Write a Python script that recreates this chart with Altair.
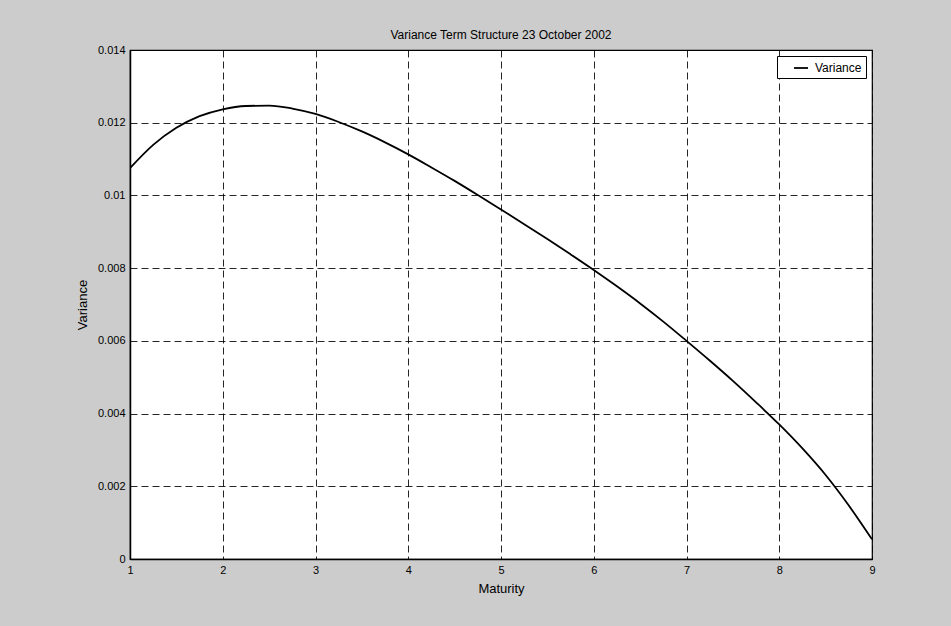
import altair as alt
import pandas as pd

maturity = [1.0, 1.25, 1.5, 1.75, 2.0, 2.25, 2.5, 2.75, 3.0, 3.25, 3.5, 3.75,
            4.0, 4.25, 4.5, 4.75, 5.0, 5.25, 5.5, 5.75, 6.0, 6.25, 6.5, 6.75,
            7.0, 7.25, 7.5, 7.75, 8.0, 8.25, 8.5, 8.75, 9.0]
variance = [0.01075, 0.01139, 0.01186, 0.01218, 0.01237, 0.01246, 0.01247, 0.01239,
            0.01224, 0.01202, 0.01176, 0.01146, 0.01113, 0.01077, 0.01040, 0.01001,
            0.00961, 0.00921, 0.00880, 0.00838, 0.00795, 0.00750, 0.00703, 0.00653,
            0.00600, 0.00546, 0.00490, 0.00431, 0.00370, 0.00304, 0.00231, 0.00147,
            0.00054]
series = ["Variance"] * len(maturity)
x_ticks = [1, 2, 3, 4, 5, 6, 7, 8, 9]
y_ticks = [0, 0.002, 0.004, 0.006, 0.008, 0.01, 0.012, 0.014]

df = pd.DataFrame({"Maturity": maturity, "Variance": variance, "Series": series})

FONT = "Liberation Sans"

chart = alt.Chart(df).mark_line(strokeWidth=1.8, interpolate="monotone", clip=True).encode(
    x=alt.X("Maturity:Q",
            scale=alt.Scale(domain=[1, 9], nice=False, zero=False),
            axis=alt.Axis(values=x_ticks, title="Maturity", format="d",
                          ticks=False, labelPadding=5, titlePadding=7,
                          labelFlush=False)),
    y=alt.Y("Variance:Q",
            scale=alt.Scale(domain=[0, 0.014], nice=False),
            axis=alt.Axis(values=y_ticks, title="Variance", format=".3~f",
                          ticks=False, labelPadding=5, titlePadding=8,
                          labelFlush=False)),
    color=alt.Color("Series:N",
                    scale=alt.Scale(domain=["Variance"], range=["#000000"]),
                    legend=alt.Legend(title=None, orient="top-right", offset=6,
                                      symbolType="stroke", symbolSize=196,
                                      symbolStrokeWidth=1.8, symbolOffset=12,
                                      labelFontSize=12, labelFont=FONT,
                                      labelColor="#000000",
                                      labelExpr="datum.label + '\u00a0\u00a0'",
                                      strokeColor="#000000", fillColor="#ffffff",
                                      padding=4, labelOffset=6)),
).properties(
    width=742,
    height=509,
    title=alt.TitleParams("Variance Term Structure 23 October 2002",
                          fontSize=12, font=FONT, fontWeight="normal",
                          color="#000000", offset=2),
    autosize=alt.AutoSizeParams(type="none"),
    padding={"left": 130, "top": 50, "right": 79, "bottom": 67},
    background="#cccccc",
).configure_view(
    fill="#ffffff", stroke="#000000", strokeWidth=1.2
).configure_axis(
    grid=True, gridColor="#000000", gridDash=[7, 4], gridOpacity=0.85, gridWidth=1,
    domainColor="#000000", domainWidth=1.5,
    labelFont=FONT, labelFontSize=11, labelColor="#000000",
    titleFont=FONT, titleFontSize=13, titleFontWeight="normal", titleColor="#000000",
)

chart.save("out.html", embed_options={"renderer": "svg", "actions": False})
